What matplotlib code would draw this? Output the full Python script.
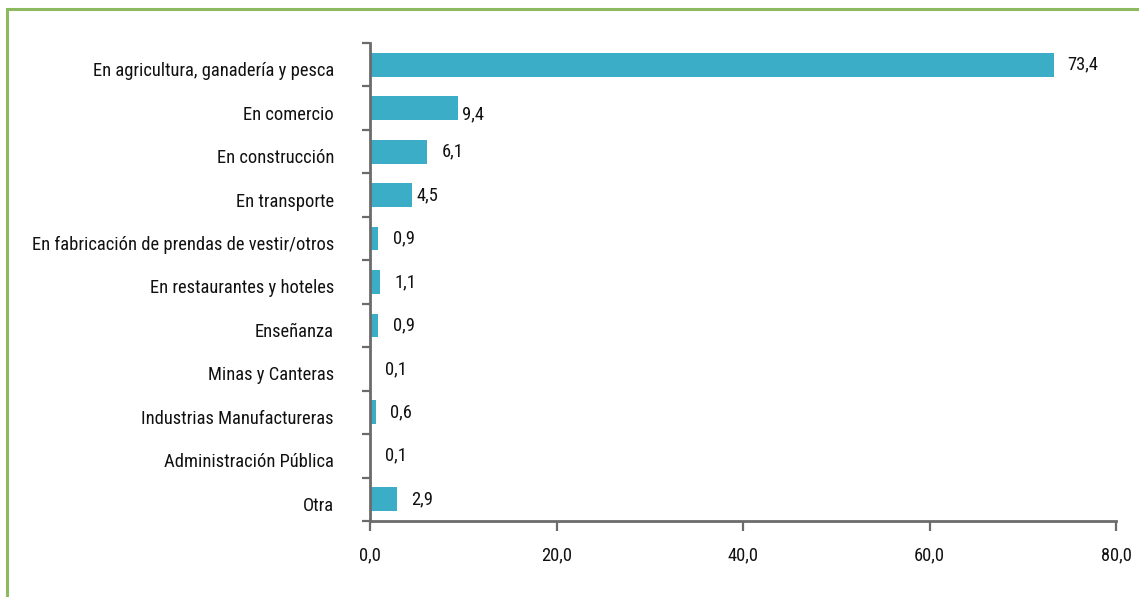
import numpy as np
import matplotlib
matplotlib.use('Agg')
from matplotlib import pyplot as plt
from matplotlib.patches import Rectangle
from matplotlib.transforms import ScaledTranslation

categories = [
    'En agricultura, ganadería y pesca',
    'En comercio',
    'En construcción',
    'En transporte',
    'En fabricación de prendas de vestir/otros',
    'En restaurantes y hoteles',
    'Enseñanza',
    'Minas y Canteras',
    'Industrias Manufactureras',
    'Administración Pública',
    'Otra',
]
values = [73.4, 9.4, 6.1, 4.5, 0.9, 1.1, 0.9, 0.1, 0.6, 0.1, 2.9]
xticks = [0, 20, 40, 60, 80]

bar_color = '#3BADC7'
axis_color = '#6B6B6B'
frame_color = '#8DBA5E'

# the original's value labels were nudged by hand; (dx, dy) in pixels from the bar end
label_nudge = {0: (13, 0), 1: (4, -6), 3: (5, 0)}
default_nudge = (14.5, 0)

# narrow sans like the original; falls back to Roboto if the condensed cut is missing
plt.rcParams['font.family'] = ['Roboto Condensed', 'Roboto', 'DejaVu Sans']
plt.rcParams['font.size'] = 13.3

W, H = 1139, 597
fig = plt.figure(figsize=(W / 100, H / 100), dpi=100)
ax = fig.add_axes([370 / W, 1 - 521 / H, (1116 - 370) / W, (521 - 43) / H])

# green frame around the figure, runs off the right and bottom edges
fig.patches.append(Rectangle((7 / W, -0.05), 1.2, 1 - 9 / H + 0.05, transform=fig.transFigure,
                             fill=False, edgecolor=frame_color, linewidth=2.2, clip_on=False))

n = len(categories)
ypos = np.arange(n)
ax.barh(ypos, values, height=0.55, color=bar_color, zorder=2)

for i, (y, v) in enumerate(zip(ypos, values)):
    dx, dy = label_nudge.get(i, default_nudge)
    ax.annotate('{:.1f}'.format(v).replace('.', ','), (v, y), xytext=(dx * 0.72, dy * 0.72),
                textcoords='offset points', va='center', ha='left', color='#111111')

ax.set_ylim(n - 0.5, -0.5)
ax.set_xlim(0, 80)

ax.set_yticks(ypos)
ax.set_yticklabels(categories, color='#111111')
ax.set_yticks(np.arange(n + 1) - 0.5, minor=True)
ax.tick_params(axis='y', which='major', length=0, pad=26)
ax.tick_params(axis='y', which='minor', length=6, width=1.6, color=axis_color)

# category names sit a little below the bar centres in the original
shift = ScaledTranslation(0, -4.5 / 100, fig.dpi_scale_trans)
for lab in ax.get_yticklabels():
    lab.set_transform(lab.get_transform() + shift)

ax.set_xticks(xticks)
ax.set_xticklabels(['{:.1f}'.format(t).replace('.', ',') for t in xticks], color='#111111')
ax.tick_params(axis='x', length=7.5, width=1.6, color=axis_color, pad=11)

for side in ['top', 'right']:
    ax.spines[side].set_visible(False)
for side in ['left', 'bottom']:
    ax.spines[side].set_color(axis_color)
    ax.spines[side].set_linewidth(2)

fig.savefig('out.png', dpi=100)
